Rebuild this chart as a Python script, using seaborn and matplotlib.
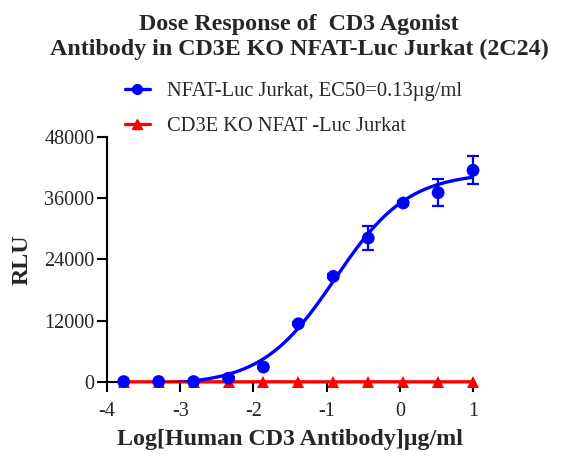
import numpy as np
import pandas as pd
import matplotlib
matplotlib.use("Agg")
import matplotlib.pyplot as plt
from matplotlib.lines import Line2D
import seaborn as sns

# dose in log10(ug/ml), 3-fold dilution from 10 ug/ml
log_dose = [-3.771, -3.294, -2.817, -2.340, -1.863, -1.385, -0.908, -0.431, 0.046, 0.523, 1.0]
wt_rlu = [100, 120, 110, 780, 2940, 11420, 20690, 28190, 35040, 37060, 41440]
wt_err = [60, 60, 60, 150, 200, 300, 400, 2280, 400, 2600, 2710]
ko_rlu = [60, 50, 55, 50, 60, 55, 50, 60, 55, 50, 60]

# 4PL fit parameters for the wild type curve
fit_bottom = -600
fit_top = 41000
fit_logec50 = np.log10(0.13)
fit_hill = 0.87

wt_label = "NFAT-Luc Jurkat, EC50=0.13\u00b5g/ml"
ko_label = "CD3E KO NFAT -Luc Jurkat"
blue = "#0000ff"
red = "#ff0000"

sns.set_style("ticks")
plt.rcParams['font.family'] = ['Liberation Serif', 'DejaVu Serif']
plt.rcParams['axes.unicode_minus'] = False

fig = plt.figure(figsize=(5.72, 4.70), dpi=100)
ax = fig.add_axes([0.187, 0.187, 0.640, 0.522])

xs = np.linspace(-4, 1, 300)
curve = pd.DataFrame({"x": xs,
                      "y": fit_bottom + (fit_top - fit_bottom) / (1 + 10 ** ((fit_logec50 - xs) * fit_hill))})
df = pd.DataFrame({"x": log_dose, "wt": wt_rlu, "err": wt_err, "ko": ko_rlu})

sns.lineplot(data=df, x="x", y="ko", ax=ax, color=red, lw=2.4, marker="^", markersize=8,
             markeredgewidth=0, zorder=3, clip_on=False)
sns.lineplot(data=curve, x="x", y="y", ax=ax, color=blue, lw=2.4, zorder=4)
ax.errorbar(df["x"], df["wt"], yerr=df["err"], fmt="none", ecolor=blue, elinewidth=1.6,
            capsize=4.5, capthick=1.6, zorder=5, clip_on=False)
sns.scatterplot(data=df, x="x", y="wt", ax=ax, color=blue, s=85, edgecolor="none", zorder=6, clip_on=False)

ax.set_xlim(-4, 1)
ax.set_ylim(0, 48000)
ax.set_xticks([-4, -3, -2, -1, 0, 1])
ax.set_yticks([0, 12000, 24000, 36000, 48000])
ax.tick_params(axis="both", direction="out", length=7, width=1.5, labelsize=14.5, color="black")
ax.tick_params(axis="x", pad=7)
ax.tick_params(axis="y", pad=2)
for s in ["left", "bottom"]:
    ax.spines[s].set_linewidth(1.5)
    ax.spines[s].set_color("black")
sns.despine(ax=ax)

ax.set_xlabel("Log[Human CD3 Antibody]\u00b5g/ml", fontsize=17.3, fontweight="bold", labelpad=6)
ax.set_ylabel("RLU", fontsize=17.3, fontweight="bold", labelpad=8)

fig.suptitle("Dose Response of  CD3 Agonist\nAntibody in CD3E KO NFAT-Luc Jurkat (2C24)",
             x=0.523, y=0.97, fontsize=17.3, fontweight="bold", linespacing=1.2)

handles = [Line2D([], [], color=blue, lw=2.4, marker="o", markersize=7),
           Line2D([], [], color=red, lw=2.4, marker="^", markersize=7)]
fig.legend(handles, [wt_label, ko_label], loc="upper left", bbox_to_anchor=(0.186, 0.865),
           frameon=False, fontsize=14.8, handlelength=1.2, labelspacing=0.75, handletextpad=0.85)

fig.savefig("out.png", dpi=100)
